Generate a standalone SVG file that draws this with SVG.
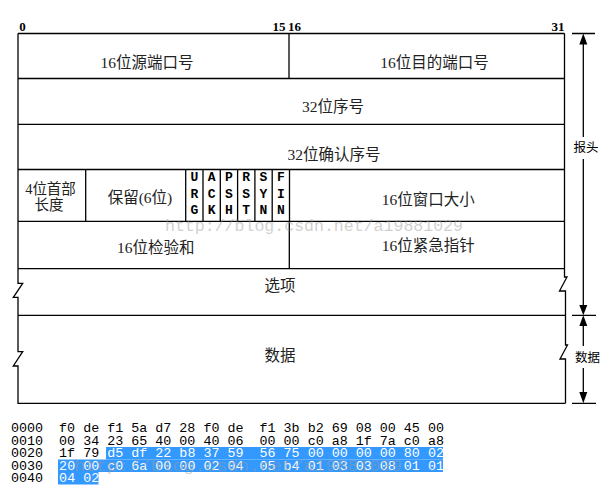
<svg xmlns="http://www.w3.org/2000/svg" width="616" height="489" viewBox="0 0 616 489">
<defs>
<style>
.ln{stroke:#000;stroke-width:1.3;fill:none}
.t{font-family:"Liberation Serif","Noto Sans CJK SC",serif;font-size:15.5px;fill:#222;text-anchor:middle}
.s{font-size:14.5px}
.bit{font-family:"Liberation Serif",serif;font-size:13px;font-weight:bold;fill:#000}
.flag{font-family:"Liberation Mono","DejaVu Sans Mono",monospace;font-size:13px;font-weight:bold;fill:#000;text-anchor:middle}
.side{font-family:"Noto Sans CJK SC",sans-serif;font-size:12.5px;fill:#000;text-anchor:middle}
.hex{font-family:"Liberation Mono","DejaVu Sans Mono",monospace;font-size:13.37px;fill:#000;white-space:pre}
.w{fill:#fff}
.hl{fill:#3399ff}
.wm{font-family:"Liberation Mono",monospace;fill:#999;opacity:0.45}
.ah{fill:#000}
</style>
</defs>
<rect width="616" height="489" fill="#fff"/>

<g id="bit-labels">
<text class="bit" x="19.2" y="30.5">0</text>
<text class="bit" x="285.5" y="30.5" text-anchor="end">15</text>
<text class="bit" x="288" y="30.5">16</text>
<text class="bit" x="564.5" y="30.5" text-anchor="end">31</text>
</g>

<g id="frame">
<path class="ln" d="M18,33.5 H564.5"/>
<path class="ln" d="M18,33.5 V283.3 H22.7 L13.3,297.3 H18 V351.7 H22.7 L13.3,366 H18 V403.3 H565.5"/>
<path class="ln" d="M564.5,33.5 V277 H567 L559.5,291 H565.5 V345 H567.5 L560,359 H565.5 V403.3"/>
<path class="ln" d="M18,78.5 H564.5 M18,124.3 H564.5 M18,169.5 H564.5 M18,221.3 H564.5 M18,268.7 H564.5 M18,315.3 H565.5"/>
</g>

<g id="src-port"><path class="ln" d="M289,33.5 V78.5"/><text class="t" x="147" y="67.5">16位源端口号</text></g>
<g id="dst-port"><text class="t" x="434.5" y="67.5">16位目的端口号</text></g>
<g id="seq"><text class="t" x="333" y="112">32位序号</text></g>
<g id="ack"><text class="t" x="334" y="160">32位确认序号</text></g>
<g id="hdr-len"><path class="ln" d="M85.7,169.5 V221.3"/><text class="t s" x="50.5" y="193.5">4位首部</text><text class="t s" x="49" y="210">长度</text></g>
<g id="reserved"><path class="ln" d="M185.7,169.5 V221.3"/><text class="t" x="140" y="203">保留(6位)</text></g>
<g id="flags">
<path class="ln" d="M203,169.5 V221.3 M220.3,169.5 V221.3 M237.6,169.5 V221.3 M254.9,169.5 V221.3 M272.2,169.5 V221.3 M289.5,169.5 V221.3"/>
<text class="flag" x="194.4" y="180.5">U</text><text class="flag" x="194.4" y="197.5">R</text><text class="flag" x="194.4" y="214">G</text>
<text class="flag" x="211.6" y="180.5">A</text><text class="flag" x="211.6" y="197.5">C</text><text class="flag" x="211.6" y="214">K</text>
<text class="flag" x="229" y="180.5">P</text><text class="flag" x="229" y="197.5">S</text><text class="flag" x="229" y="214">H</text>
<text class="flag" x="246.2" y="180.5">R</text><text class="flag" x="246.2" y="197.5">S</text><text class="flag" x="246.2" y="214">T</text>
<text class="flag" x="263.5" y="180.5">S</text><text class="flag" x="263.5" y="197.5">Y</text><text class="flag" x="263.5" y="214">N</text>
<text class="flag" x="280.8" y="180.5">F</text><text class="flag" x="280.8" y="197.5">I</text><text class="flag" x="280.8" y="214">N</text>
</g>
<g id="window"><text class="t" x="428.3" y="205">16位窗口大小</text></g>
<g id="checksum"><path class="ln" d="M289.3,221.3 V268.7"/><text class="t" x="155.8" y="253">16位检验和</text></g>
<g id="urgent"><text class="t" x="428.3" y="250.7">16位紧急指针</text></g>
<g id="options"><text class="t" x="280" y="290.7">选项</text></g>
<g id="data"><text class="t" x="280" y="360.7">数据</text></g>

<g id="connectors">
<path class="ln" d="M572,33.5 H595 M572,315.3 H596 M572,403.3 H596"/>
<path class="ln" d="M583.3,44 V137 M583.3,159 V305 M583.3,326 V346 M583.3,368 V392"/>
<polygon class="ah" points="583.3,33.5 579.3,44.5 587.3,44.5"/>
<polygon class="ah" points="583.3,315.3 579.3,305 587.3,305"/>
<polygon class="ah" points="583.3,315.3 579.3,326 587.3,326"/>
<polygon class="ah" points="583.3,403.3 579.3,392 587.3,392"/>
</g>
<g id="label-header"><text class="side" x="586" y="152">报头</text></g>
<g id="label-data"><text class="side" x="587.5" y="362">数据</text></g>

<g id="hexdump">
<rect class="hl" x="106" y="447" width="337" height="12.5"/>
<rect class="hl" x="58" y="459.5" width="385" height="12.5"/>
<rect class="hl" x="58" y="472" width="40.5" height="12.5"/>
<text class="hex" x="11" y="432" xml:space="preserve">0000  f0 de f1 5a d7 28 f0 de  f1 3b b2 69 08 00 45 00</text>
<text class="hex" x="11" y="444.5" xml:space="preserve">0010  00 34 23 65 40 00 40 06  00 00 c0 a8 1f 7a c0 a8</text>
<text class="hex" x="11" y="457" xml:space="preserve">0020  1f 79 <tspan class="w">d5 df 22 b8 37 59  56 75 00 00 00 00 80 02</tspan></text>
<text class="hex" x="11" y="469.5" xml:space="preserve">0030  <tspan class="w">20 00 c0 6a 00 00 02 04  05 b4 01 03 03 08 01 01</tspan></text>
<text class="hex" x="11" y="482" xml:space="preserve">0040  <tspan class="w">04 02</tspan></text>
</g>

<g id="watermarks">
<text class="wm" x="165" y="231" font-size="16.5" textLength="298" lengthAdjust="spacingAndGlyphs">http://blog.csdn.net/a19881029</text>
<text class="wm" x="74" y="471" font-size="17" textLength="328" lengthAdjust="spacingAndGlyphs">http://blog.csdn.net/a19881029</text>
</g>
</svg>
